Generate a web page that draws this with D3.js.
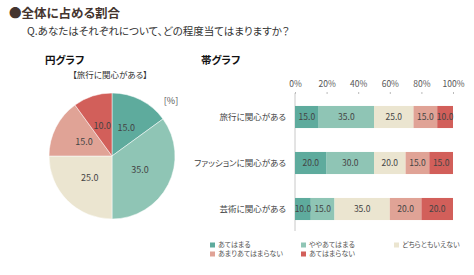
<!DOCTYPE html>
<html>
<head>
<meta charset="utf-8">
<script src="https://cdn.jsdelivr.net/npm/d3@7"></script>
<style>
  body { margin: 0; background: #fff; }
  text { font-family: "Noto Sans CJK JP", "Noto Sans", sans-serif; font-feature-settings: "palt"; }
</style>
</head>
<body>
<div id="chart"></div>
<script>
// answers (legend order)
var answers = ["あてはまる", "ややあてはまる", "どちらともいえない", "あまりあてはまらない", "あてはまらない"];
var colors = ["#5eab9d", "#8fc5b5", "#ebe5d0", "#e0a396", "#d25f5a"];

// rows of the band chart
var questions = ["旅行に関心がある", "ファッションに関心がある", "芸術に関心がある"];
var travel = [15, 35, 25, 15, 10];
var fashion = [20, 30, 20, 15, 15];
var art = [10, 15, 35, 20, 20];
var xTicks = [0, 20, 40, 60, 80, 100];

var rows = [travel, fashion, art];

var svg = d3.select("#chart").append("svg")
    .attr("width", 474)
    .attr("height", 275);

// titles
svg.append("text")
    .attr("x", 9).attr("y", 18)
    .style("font-size", "12.5px").style("font-weight", "bold")
    .style("fill", "#45352f")
    .text("●全体に占める割合");

svg.append("text")
    .attr("x", 27).attr("y", 35)
    .style("font-size", "10.5px")
    .style("fill", "#333")
    .text("Q.あなたはそれぞれについて、どの程度当てはまりますか？");

svg.append("text")
    .attr("x", 45).attr("y", 64)
    .style("font-size", "10.5px").style("font-weight", "bold")
    .style("fill", "#111")
    .text("円グラフ");

svg.append("text")
    .attr("x", 201).attr("y", 64)
    .style("font-size", "10.5px").style("font-weight", "bold")
    .style("fill", "#111")
    .text("帯グラフ");

svg.append("text")
    .attr("x", 110).attr("y", 78)
    .attr("text-anchor", "middle")
    .style("font-size", "8.5px")
    .style("fill", "#333")
    .text("【旅行に関心がある】");

svg.append("text")
    .attr("x", 171).attr("y", 104)
    .attr("text-anchor", "middle")
    .style("font-size", "9px")
    .style("fill", "#555")
    .text("[%]");

// pie
var pie = d3.pie().sort(null).value(function(d) { return d; });
var arc = d3.arc().innerRadius(0).outerRadius(63);

var pg = svg.append("g").attr("transform", "translate(112,156)");
var slices = pg.selectAll("g.slice")
  .data(pie(travel))
  .enter().append("g").attr("class", "slice");

slices.append("path")
    .attr("d", arc)
    .style("fill", function(d, i) { return colors[i]; })
    .style("stroke", "#fff")
    .style("stroke-width", 0.5);

slices.append("text")
    .attr("transform", function(d) { return "translate(" + arc.centroid(d) + ")"; })
    .attr("text-anchor", "middle")
    .attr("dy", "0.35em")
    .style("font-size", "9px")
    .style("fill", "#444")
    .text(function(d) { return d.data.toFixed(1); });

// band chart
var x = d3.scaleLinear().domain([0, 100]).range([295, 453]);
var y = d3.scaleBand().domain(questions).range([94, 232]).paddingInner(0.52).paddingOuter(0.26);

var axisG = svg.append("g")
    .attr("transform", "translate(0,94)")
    .call(d3.axisTop(x).tickValues(xTicks).tickFormat(function(d) { return d + "%"; }).tickSize(2));
axisG.select(".domain").remove();
axisG.selectAll(".tick line").style("stroke", "#bbb");
axisG.selectAll(".tick text")
    .style("font-size", "8.5px")
    .style("fill", "#555")
    .attr("y", -7);

svg.append("line")
    .attr("x1", x(0)).attr("x2", x(0))
    .attr("y1", 93).attr("y2", 231)
    .style("stroke", "#c8c8c8");

questions.forEach(function(q, qi) {
  var vals = rows[qi];
  var start = 0;
  var g = svg.append("g");
  vals.forEach(function(v, i) {
    g.append("rect")
        .attr("x", x(start))
        .attr("y", y(q))
        .attr("width", x(start + v) - x(start))
        .attr("height", y.bandwidth())
        .style("fill", colors[i]);
    g.append("text")
        .attr("x", (x(start) + x(start + v)) / 2)
        .attr("y", y(q) + y.bandwidth() / 2)
        .attr("dy", "0.35em")
        .attr("text-anchor", "middle")
        .style("font-size", "8.5px")
        .style("fill", "#444")
        .text(v.toFixed(1));
    start += v;
  });
  svg.append("text")
      .attr("x", 286)
      .attr("y", y(q) + y.bandwidth() / 2)
      .attr("dy", "0.35em")
      .attr("text-anchor", "end")
      .style("font-size", "8.5px")
      .style("fill", "#444")
      .text(q);
});

// legend
var legendPos = [[210, 245], [301, 245], [394, 245], [210, 254], [301, 254]];
answers.forEach(function(a, i) {
  var lg = svg.append("g").attr("transform", "translate(" + legendPos[i][0] + "," + legendPos[i][1] + ")");
  lg.append("rect")
      .attr("x", 0).attr("y", -2.5)
      .attr("width", 5).attr("height", 5)
      .style("fill", colors[i]);
  lg.append("text")
      .attr("x", 8).attr("y", 0)
      .attr("dy", "0.35em")
      .style("font-size", "7px")
      .style("fill", "#555")
      .text(a);
});
</script>
</body>
</html>
